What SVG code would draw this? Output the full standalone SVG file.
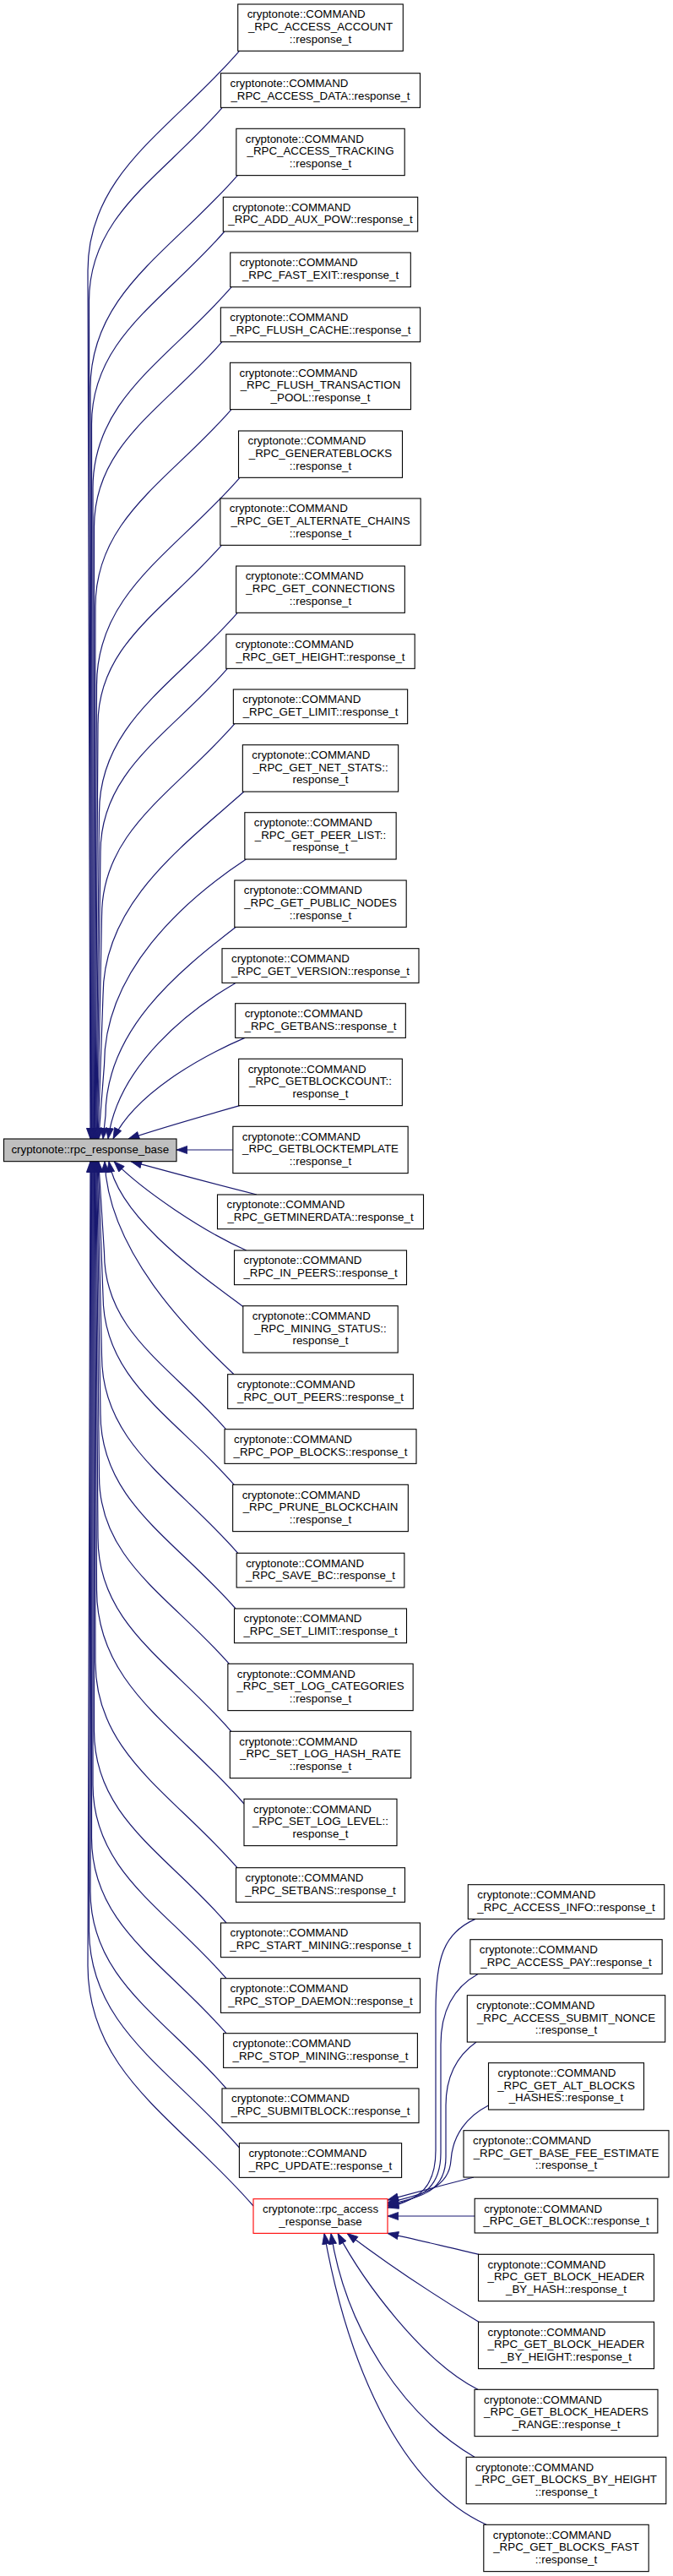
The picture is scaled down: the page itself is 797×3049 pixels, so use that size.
<svg xmlns="http://www.w3.org/2000/svg" width="797" height="3049" viewBox="0 0 797 3049">
<style>
.n rect{fill:#fff;stroke:#000;stroke-width:1.1}
.base rect{fill:#bfbfbf}
.trunc rect{stroke:#ff0000}
text{font-family:"Liberation Sans",Arial,Helvetica,sans-serif;font-size:13.33px;fill:#000}
.m{text-anchor:middle}
#edges path{fill:none;stroke:#191970;stroke-width:1.2;marker-end:url(#arr)}
</style>
<defs>
<marker id="arr" markerUnits="userSpaceOnUse" viewBox="0 0 14 10" markerWidth="14" markerHeight="10" refX="13.3" refY="5" orient="auto">
<path d="M0.5,0.4 L13.3,5 L0.5,9.6 Z" fill="#191970" stroke="#191970" stroke-width="0.8"/>
</marker>
</defs>
<rect x="0" y="0" width="797" height="3049" fill="#fff"/>
<g id="edges">
<path d="M283.2,60.7 C202.6,153.9 104,204.1 104,320.5 L107,1348"/>
<path d="M263.2,127.4 C192.2,209.4 105.5,253.6 105.5,356.1 L107.75,1348"/>
<path d="M281.3,207.6 C202.6,298 107,346.6 107,459.6 L108.5,1348"/>
<path d="M265.8,274 C195,355.8 108.5,399.8 108.5,502.1 L109.25,1348"/>
<path d="M274.2,339.7 C200.3,425.1 110,471.1 110,577.8 L110,1348"/>
<path d="M262.9,404.7 C194.5,483.2 111.5,525.5 111.5,623.7 L110.75,1348"/>
<path d="M274,484.6 C201.4,568.2 113,613.2 113,717.8 L111.5,1348"/>
<path d="M284,565.3 C207.6,653.3 114.5,700.7 114.5,810.8 L112.25,1348"/>
<path d="M262.4,645.3 C196.4,721.3 116,762.3 116,857.3 L113,1348"/>
<path d="M281.2,725.3 C207.3,810.2 117.5,855.9 117.5,962.1 L113.75,1348"/>
<path d="M269.3,791.4 C201.4,869.3 119,911.2 119,1008.6 L114.5,1348"/>
<path d="M277.9,856.7 C206.8,938.3 120.5,982.3 120.5,1084.4 L115.25,1348"/>
<path d="M288.9,937 C213.6,1003.6 122,1070.2 122,1178.4 L116,1348"/>
<path d="M291.4,1017 C215.7,1067 123.5,1151.2 123.5,1260.2 L116.75,1348"/>
<path d="M279.3,1097.3 C209.6,1151.1 125,1220.3 125,1320.3 L122,1348"/>
<path d="M279,1163.4 C225,1195 140,1260 128,1348"/>
<path d="M290,1228.4 C235,1252 160,1295 134,1348"/>
<path d="M283.8,1308.6 C240,1321 185,1337 152,1348"/>
<path d="M275.85,1361 L209,1361"/>
<path d="M304,1414 C260,1403 200,1387 155,1374.7"/>
<path d="M291.7,1480 C240,1457 170,1410 135,1374.7"/>
<path d="M288.5,1547 C232,1505 140,1440 129,1374.7"/>
<path d="M277,1626.7 C222,1575 128,1480 124,1374.7"/>
<path d="M267.5,1691.7 C202.5,1617 123.5,1576.7 123.5,1483.3 L116.75,1374.7"/>
<path d="M277.2,1757.3 C207,1677 122,1633.7 122,1533.3 L116,1374.7"/>
<path d="M281.7,1838.3 C209,1754.6 120.5,1709.5 120.5,1604.8 L115.25,1374.7"/>
<path d="M279,1904 C206.6,1821.2 119,1776.6 119,1673.2 L114.5,1374.7"/>
<path d="M271.4,1969.3 C201.6,1889.7 117.5,1846.9 117.5,1747.4 L113.75,1374.7"/>
<path d="M273.8,2049.3 C202.8,1967.2 116,1923.1 116,1820.5 L113,1374.7"/>
<path d="M289,2135 C210.5,2044.3 114.5,1995.4 114.5,1882 L112.25,1374.7"/>
<path d="M281,2210.7 C205.3,2123.4 113,2076.5 113,1967.4 L111.5,1374.7"/>
<path d="M268,2276 C197.6,2194.6 111.5,2150.8 111.5,2049.1 L110.75,1374.7"/>
<path d="M268,2341.7 C196.9,2259.5 110,2215.3 110,2112.6 L110,1374.7"/>
<path d="M268,2406.7 C196.2,2323.8 108.5,2279.1 108.5,2175.4 L109.25,1374.7"/>
<path d="M268,2472 C195.5,2388.3 107,2343.2 107,2238.5 L108.5,1374.7"/>
<path d="M283.4,2542 C203.4,2449.5 105.5,2399.7 105.5,2284 L107.75,1374.7"/>
<path d="M300,2611 C211.8,2509.1 104,2454.2 104,2326.8 L107,1374.7"/>
<path d="M563,2271.4 C525,2288 516,2318 516,2380 L516,2545 C516,2588 498,2603 459,2613"/>
<path d="M566,2336.4 C538,2352 522,2378 522,2420 L522,2548 C522,2590 500,2602 459,2611"/>
<path d="M564,2417 C543,2432 528,2455 528,2492 L528,2553 C528,2592 502,2601 459,2609"/>
<path d="M578.5,2492 C553,2505 536,2527 534,2557 C532,2590 500,2598 459,2607"/>
<path d="M561,2577 C530,2585 495,2594 459,2604"/>
<path d="M562.15,2623 L459,2623"/>
<path d="M567,2668.3 C530,2660 495,2651 459,2643.4"/>
<path d="M567,2748.3 C530,2726 470,2688 411,2643.4"/>
<path d="M566,2828.3 C500,2795 430,2700 400,2643.4"/>
<path d="M562,2908.3 C480,2860 410,2760 392,2643.4"/>
<path d="M576,2988.3 C470,2940 410,2790 384,2643.4"/>
</g>
<g id="node_rpc_response_base" class="n base"><rect x="4.5" y="1348" width="204.5" height="26.67"/><text class="m" x="106.75" y="1364.6">cryptonote::rpc_response_base</text></g>
<g id="node_access_account" class="n"><rect x="281.7" y="5" width="195.6" height="55.33"/><text x="292.7" y="21.3">cryptonote::COMMAND</text><text class="m" x="379.5" y="36">_RPC_ACCESS_ACCOUNT</text><text class="m" x="379.5" y="50.7">::response_t</text></g>
<g id="node_access_data" class="n"><rect x="261.5" y="86.7" width="236" height="40.67"/><text x="272.5" y="103">cryptonote::COMMAND</text><text class="m" x="379.5" y="117.7">_RPC_ACCESS_DATA::response_t</text></g>
<g id="node_access_tracking" class="n"><rect x="279.8" y="152.3" width="199.4" height="55.33"/><text x="290.8" y="168.6">cryptonote::COMMAND</text><text class="m" x="379.5" y="183.3">_RPC_ACCESS_TRACKING</text><text class="m" x="379.5" y="198">::response_t</text></g>
<g id="node_add_aux_pow" class="n"><rect x="264.3" y="233.3" width="230.4" height="40.67"/><text x="275.3" y="249.6">cryptonote::COMMAND</text><text class="m" x="379.5" y="264.3">_RPC_ADD_AUX_POW::response_t</text></g>
<g id="node_fast_exit" class="n"><rect x="272.7" y="299" width="213.6" height="40.67"/><text x="283.7" y="315.3">cryptonote::COMMAND</text><text class="m" x="379.5" y="330">_RPC_FAST_EXIT::response_t</text></g>
<g id="node_flush_cache" class="n"><rect x="261.35" y="364" width="236.3" height="40.67"/><text x="272.35" y="380.3">cryptonote::COMMAND</text><text class="m" x="379.5" y="395">_RPC_FLUSH_CACHE::response_t</text></g>
<g id="node_flush_transaction_pool" class="n"><rect x="272.5" y="429.3" width="214" height="55.33"/><text x="283.5" y="445.6">cryptonote::COMMAND</text><text class="m" x="379.5" y="460.3">_RPC_FLUSH_TRANSACTION</text><text class="m" x="379.5" y="475">_POOL::response_t</text></g>
<g id="node_generateblocks" class="n"><rect x="282.5" y="510" width="194" height="55.33"/><text x="293.5" y="526.3">cryptonote::COMMAND</text><text class="m" x="379.5" y="541">_RPC_GENERATEBLOCKS</text><text class="m" x="379.5" y="555.7">::response_t</text></g>
<g id="node_get_alternate_chains" class="n"><rect x="260.85" y="590" width="237.3" height="55.33"/><text x="271.85" y="606.3">cryptonote::COMMAND</text><text class="m" x="379.5" y="621">_RPC_GET_ALTERNATE_CHAINS</text><text class="m" x="379.5" y="635.7">::response_t</text></g>
<g id="node_get_connections" class="n"><rect x="279.65" y="670" width="199.7" height="55.33"/><text x="290.65" y="686.3">cryptonote::COMMAND</text><text class="m" x="379.5" y="701">_RPC_GET_CONNECTIONS</text><text class="m" x="379.5" y="715.7">::response_t</text></g>
<g id="node_get_height" class="n"><rect x="267.8" y="750.7" width="223.4" height="40.67"/><text x="278.8" y="767">cryptonote::COMMAND</text><text class="m" x="379.5" y="781.7">_RPC_GET_HEIGHT::response_t</text></g>
<g id="node_get_limit" class="n"><rect x="276.35" y="816" width="206.3" height="40.67"/><text x="287.35" y="832.3">cryptonote::COMMAND</text><text class="m" x="379.5" y="847">_RPC_GET_LIMIT::response_t</text></g>
<g id="node_get_net_stats" class="n"><rect x="287.35" y="881.7" width="184.3" height="55.33"/><text x="298.35" y="898">cryptonote::COMMAND</text><text class="m" x="379.5" y="912.7">_RPC_GET_NET_STATS::</text><text class="m" x="379.5" y="927.4">response_t</text></g>
<g id="node_get_peer_list" class="n"><rect x="289.85" y="961.7" width="179.3" height="55.33"/><text x="300.85" y="978">cryptonote::COMMAND</text><text class="m" x="379.5" y="992.7">_RPC_GET_PEER_LIST::</text><text class="m" x="379.5" y="1007.4">response_t</text></g>
<g id="node_get_public_nodes" class="n"><rect x="277.8" y="1042" width="203.4" height="55.33"/><text x="288.8" y="1058.3">cryptonote::COMMAND</text><text class="m" x="379.5" y="1073">_RPC_GET_PUBLIC_NODES</text><text class="m" x="379.5" y="1087.7">::response_t</text></g>
<g id="node_get_version" class="n"><rect x="263" y="1122.7" width="233" height="40.67"/><text x="274" y="1139">cryptonote::COMMAND</text><text class="m" x="379.5" y="1153.7">_RPC_GET_VERSION::response_t</text></g>
<g id="node_getbans" class="n"><rect x="278.65" y="1187.7" width="201.7" height="40.67"/><text x="289.65" y="1204">cryptonote::COMMAND</text><text class="m" x="379.5" y="1218.7">_RPC_GETBANS::response_t</text></g>
<g id="node_getblockcount" class="n"><rect x="282.65" y="1253.3" width="193.7" height="55.33"/><text x="293.65" y="1269.6">cryptonote::COMMAND</text><text class="m" x="379.5" y="1284.3">_RPC_GETBLOCKCOUNT::</text><text class="m" x="379.5" y="1299">response_t</text></g>
<g id="node_getblocktemplate" class="n"><rect x="275.85" y="1333.3" width="207.3" height="55.33"/><text x="286.85" y="1349.6">cryptonote::COMMAND</text><text class="m" x="379.5" y="1364.3">_RPC_GETBLOCKTEMPLATE</text><text class="m" x="379.5" y="1379">::response_t</text></g>
<g id="node_getminerdata" class="n"><rect x="257.5" y="1414" width="244" height="40.67"/><text x="268.5" y="1430.3">cryptonote::COMMAND</text><text class="m" x="379.5" y="1445">_RPC_GETMINERDATA::response_t</text></g>
<g id="node_in_peers" class="n"><rect x="277.5" y="1480" width="204" height="40.67"/><text x="288.5" y="1496.3">cryptonote::COMMAND</text><text class="m" x="379.5" y="1511">_RPC_IN_PEERS::response_t</text></g>
<g id="node_mining_status" class="n"><rect x="287.8" y="1545.7" width="183.4" height="55.33"/><text x="298.8" y="1562">cryptonote::COMMAND</text><text class="m" x="379.5" y="1576.7">_RPC_MINING_STATUS::</text><text class="m" x="379.5" y="1591.4">response_t</text></g>
<g id="node_out_peers" class="n"><rect x="269.65" y="1626.7" width="219.7" height="40.67"/><text x="280.65" y="1643">cryptonote::COMMAND</text><text class="m" x="379.5" y="1657.7">_RPC_OUT_PEERS::response_t</text></g>
<g id="node_pop_blocks" class="n"><rect x="266" y="1691.7" width="227" height="40.67"/><text x="277" y="1708">cryptonote::COMMAND</text><text class="m" x="379.5" y="1722.7">_RPC_POP_BLOCKS::response_t</text></g>
<g id="node_prune_blockchain" class="n"><rect x="275.65" y="1757.3" width="207.7" height="55.33"/><text x="286.65" y="1773.6">cryptonote::COMMAND</text><text class="m" x="379.5" y="1788.3">_RPC_PRUNE_BLOCKCHAIN</text><text class="m" x="379.5" y="1803">::response_t</text></g>
<g id="node_save_bc" class="n"><rect x="280.15" y="1838.3" width="198.7" height="40.67"/><text x="291.15" y="1854.6">cryptonote::COMMAND</text><text class="m" x="379.5" y="1869.3">_RPC_SAVE_BC::response_t</text></g>
<g id="node_set_limit" class="n"><rect x="277.5" y="1904" width="204" height="40.67"/><text x="288.5" y="1920.3">cryptonote::COMMAND</text><text class="m" x="379.5" y="1935">_RPC_SET_LIMIT::response_t</text></g>
<g id="node_set_log_categories" class="n"><rect x="269.85" y="1969.3" width="219.3" height="55.33"/><text x="280.85" y="1985.6">cryptonote::COMMAND</text><text class="m" x="379.5" y="2000.3">_RPC_SET_LOG_CATEGORIES</text><text class="m" x="379.5" y="2015">::response_t</text></g>
<g id="node_set_log_hash_rate" class="n"><rect x="272.3" y="2049.3" width="214.4" height="55.33"/><text x="283.3" y="2065.6">cryptonote::COMMAND</text><text class="m" x="379.5" y="2080.3">_RPC_SET_LOG_HASH_RATE</text><text class="m" x="379.5" y="2095">::response_t</text></g>
<g id="node_set_log_level" class="n"><rect x="289" y="2129.3" width="181" height="55.33"/><text x="300" y="2145.6">cryptonote::COMMAND</text><text class="m" x="379.5" y="2160.3">_RPC_SET_LOG_LEVEL::</text><text class="m" x="379.5" y="2175">response_t</text></g>
<g id="node_setbans" class="n"><rect x="279.5" y="2210.7" width="200" height="40.67"/><text x="290.5" y="2227">cryptonote::COMMAND</text><text class="m" x="379.5" y="2241.7">_RPC_SETBANS::response_t</text></g>
<g id="node_start_mining" class="n"><rect x="261.5" y="2276" width="236" height="40.67"/><text x="272.5" y="2292.3">cryptonote::COMMAND</text><text class="m" x="379.5" y="2307">_RPC_START_MINING::response_t</text></g>
<g id="node_stop_daemon" class="n"><rect x="261.5" y="2341.7" width="236" height="40.67"/><text x="272.5" y="2358">cryptonote::COMMAND</text><text class="m" x="379.5" y="2372.7">_RPC_STOP_DAEMON::response_t</text></g>
<g id="node_stop_mining" class="n"><rect x="264.6" y="2406.7" width="229.8" height="40.67"/><text x="275.6" y="2423">cryptonote::COMMAND</text><text class="m" x="379.5" y="2437.7">_RPC_STOP_MINING::response_t</text></g>
<g id="node_submitblock" class="n"><rect x="263" y="2472" width="233" height="40.67"/><text x="274" y="2488.3">cryptonote::COMMAND</text><text class="m" x="379.5" y="2503">_RPC_SUBMITBLOCK::response_t</text></g>
<g id="node_update" class="n"><rect x="283.4" y="2536.7" width="192.2" height="40.67"/><text x="294.4" y="2553">cryptonote::COMMAND</text><text class="m" x="379.5" y="2567.7">_RPC_UPDATE::response_t</text></g>
<g id="node_rpc_access_response_base" class="n trunc"><rect x="300" y="2602.7" width="159" height="40.67"/><text x="311" y="2619">cryptonote::rpc_access</text><text class="m" x="379.5" y="2633.7">_response_base</text></g>
<g id="node_access_info" class="n"><rect x="554.3" y="2230.7" width="232.4" height="40.67"/><text x="565.3" y="2247">cryptonote::COMMAND</text><text class="m" x="670.5" y="2261.7">_RPC_ACCESS_INFO::response_t</text></g>
<g id="node_access_pay" class="n"><rect x="556.85" y="2295.7" width="227.3" height="40.67"/><text x="567.85" y="2312">cryptonote::COMMAND</text><text class="m" x="670.5" y="2326.7">_RPC_ACCESS_PAY::response_t</text></g>
<g id="node_access_submit_nonce" class="n"><rect x="553.3" y="2361.7" width="234.4" height="55.33"/><text x="564.3" y="2378">cryptonote::COMMAND</text><text class="m" x="670.5" y="2392.7">_RPC_ACCESS_SUBMIT_NONCE</text><text class="m" x="670.5" y="2407.4">::response_t</text></g>
<g id="node_get_alt_blocks_hashes" class="n"><rect x="578.5" y="2441.7" width="184" height="55.33"/><text x="589.5" y="2458">cryptonote::COMMAND</text><text class="m" x="670.5" y="2472.7">_RPC_GET_ALT_BLOCKS</text><text class="m" x="670.5" y="2487.4">_HASHES::response_t</text></g>
<g id="node_get_base_fee_estimate" class="n"><rect x="549" y="2521.7" width="243" height="55.33"/><text x="560" y="2538">cryptonote::COMMAND</text><text class="m" x="670.5" y="2552.7">_RPC_GET_BASE_FEE_ESTIMATE</text><text class="m" x="670.5" y="2567.4">::response_t</text></g>
<g id="node_get_block" class="n"><rect x="562.15" y="2602.3" width="216.7" height="40.67"/><text x="573.15" y="2618.6">cryptonote::COMMAND</text><text class="m" x="670.5" y="2633.3">_RPC_GET_BLOCK::response_t</text></g>
<g id="node_get_block_header_by_hash" class="n"><rect x="566.5" y="2668.3" width="208" height="55.33"/><text x="577.5" y="2684.6">cryptonote::COMMAND</text><text class="m" x="670.5" y="2699.3">_RPC_GET_BLOCK_HEADER</text><text class="m" x="670.5" y="2714">_BY_HASH::response_t</text></g>
<g id="node_get_block_header_by_height" class="n"><rect x="566.5" y="2748.3" width="208" height="55.33"/><text x="577.5" y="2764.6">cryptonote::COMMAND</text><text class="m" x="670.5" y="2779.3">_RPC_GET_BLOCK_HEADER</text><text class="m" x="670.5" y="2794">_BY_HEIGHT::response_t</text></g>
<g id="node_get_block_headers_range" class="n"><rect x="562" y="2828.3" width="217" height="55.33"/><text x="573" y="2844.6">cryptonote::COMMAND</text><text class="m" x="670.5" y="2859.3">_RPC_GET_BLOCK_HEADERS</text><text class="m" x="670.5" y="2874">_RANGE::response_t</text></g>
<g id="node_get_blocks_by_height" class="n"><rect x="552.2" y="2908.3" width="236.6" height="55.33"/><text x="563.2" y="2924.6">cryptonote::COMMAND</text><text class="m" x="670.5" y="2939.3">_RPC_GET_BLOCKS_BY_HEIGHT</text><text class="m" x="670.5" y="2954">::response_t</text></g>
<g id="node_get_blocks_fast" class="n"><rect x="572.8" y="2988.3" width="195.4" height="55.33"/><text x="583.8" y="3004.6">cryptonote::COMMAND</text><text class="m" x="670.5" y="3019.3">_RPC_GET_BLOCKS_FAST</text><text class="m" x="670.5" y="3034">::response_t</text></g>
</svg>
